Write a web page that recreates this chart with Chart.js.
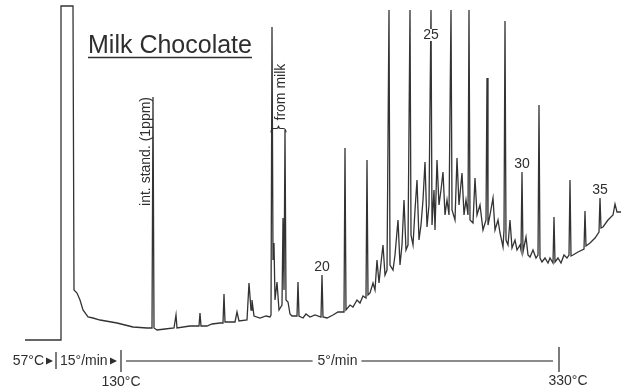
<!DOCTYPE html>
<html><head><meta charset="utf-8">
<script src="https://cdn.jsdelivr.net/npm/chart.js@4"></script>
<style>html,body{margin:0;padding:0;background:#fff}#wrap{width:621px;height:389px;position:relative}</style>
</head><body><div id="wrap"><canvas id="c"></canvas></div>
<script>
// Retention time (min, arbitrary origin) and detector signal (arbitrary units)
const retentionTime = [
  2.5, 6.0, 6.1, 7.3, 7.4, 7.7, 8.0, 8.3, 8.8, 9.3,
  10.0, 11.7, 13.3, 14.7, 15.2, 15.3, 15.4, 15.7, 16.5, 17.4,
  17.6, 17.7, 19.0, 19.9, 20.0, 20.1, 20.7, 21.2, 22.0, 22.3,
  22.4, 22.5, 23.5, 23.7, 23.9, 24.7, 24.9, 25.1, 25.2, 25.4,
  26.0, 26.6, 27.0, 27.1, 27.2, 27.3, 27.4, 27.5, 27.7, 27.9,
  28.2, 28.3, 28.4, 28.5, 28.6, 28.8, 29.0, 29.2, 29.7, 29.8,
  29.9, 30.3, 30.6, 31.0, 31.5, 32.1, 32.2, 32.3, 32.7, 33.3,
  33.8, 34.4, 34.5, 34.6, 35.0, 35.3, 35.7, 36.0, 36.3, 36.6,
  36.7, 36.8, 37.0, 37.3, 37.5, 37.7, 37.9, 38.1, 38.3, 38.5,
  38.7, 38.9, 39.0, 39.3, 39.5, 39.8, 40.0, 40.2, 40.4, 40.6,
  40.8, 41.0, 41.1, 41.3, 41.5, 41.7, 41.9, 42.1, 42.3, 42.5,
  42.7, 42.9, 43.1, 43.2, 43.4, 43.5, 43.7, 43.9, 44.1, 44.3,
  44.5, 44.7, 44.9, 45.1, 45.2, 45.5, 45.7, 45.9, 46.2, 46.4,
  46.6, 46.8, 46.9, 47.0, 47.3, 47.5, 47.7, 48.0, 48.3, 48.6,
  48.7, 48.8, 49.0, 49.3, 49.5, 49.8, 50.0, 50.3, 50.4, 50.5,
  50.6, 50.8, 51.0, 51.2, 51.5, 51.7, 52.0, 52.1, 52.2, 52.3,
  52.6, 52.8, 53.0, 53.3, 53.6, 53.8, 53.9, 54.0, 54.2, 54.5,
  54.8, 55.0, 55.3, 55.4, 55.5, 55.8, 56.1, 56.4, 56.7, 56.9,
  57.0, 57.1, 57.3, 57.8, 58.4, 58.5, 58.6, 59.0, 59.5, 59.9,
  60.0, 60.1, 60.3, 60.8, 61.3, 61.5, 61.7, 62.1
];
const signal = [
  40, 40, 374, 374, 90, 87, 80, 70, 63, 62,
  60, 57, 53, 52, 52, 283, 52, 50, 51, 52,
  65, 52, 54, 54, 67, 54, 54, 56, 57, 57,
  86, 58, 58, 68, 59, 60, 97, 70, 80, 64,
  62, 64, 63, 65, 353, 120, 137, 80, 98, 70,
  75, 162, 90, 250, 80, 78, 66, 64, 64, 98,
  64, 62, 66, 63, 65, 63, 105, 63, 62, 65,
  68, 68, 232, 70, 75, 73, 80, 77, 84, 82,
  220, 85, 87, 97, 90, 120, 97, 117, 135, 105,
  110, 370, 115, 110, 125, 160, 115, 135, 180, 130,
  135, 370, 145, 135, 170, 200, 140, 155, 180, 218,
  153, 175, 370, 155, 190, 150, 220, 175, 190, 208,
  165, 180, 165, 370, 170, 160, 222, 175, 207, 165,
  180, 165, 370, 160, 157, 202, 165, 175, 150, 160,
  302, 155, 165, 182, 150, 160, 147, 133, 150, 359,
  140, 135, 160, 132, 140, 130, 135, 130, 208, 128,
  143, 125, 123, 130, 122, 125, 275, 122, 118, 122,
  117, 122, 117, 163, 118, 122, 117, 125, 122, 125,
  200, 124, 125, 128, 131, 169, 134, 137, 142, 148,
  182, 152, 153, 160, 165, 176, 168, 168
];
const chartTitle = 'Milk Chocolate';
const peakLabels = ['20', '25', '30', '35'];
const peakLabelTimes = [32.2, 43.1, 52.2, 60.0];
const internalStandardLabel = 'int. stand. (1ppm)';
const internalStandardTime = 15.3;
const milkLabel = 'from milk';
const milkPeakTimes = [27.2, 28.5];
const programTemps = ['57°C', '130°C', '330°C'];
const programTimes = [5.6, 12.1, 55.9];
const programRates = ['15°/min', '5°/min'];

const FONT = '"Liberation Sans", Arial, Helvetica, sans-serif';
const INK = '#2e2e2e';

function peakTop(t) {
  let m = -Infinity;
  for (let i = 0; i < retentionTime.length; i++) {
    if (Math.abs(retentionTime[i] - t) < 0.15) m = Math.max(m, signal[i]);
  }
  return m;
}

const annotations = {
  id: 'annotations',
  afterDatasetsDraw(chart) {
    const ctx = chart.ctx, xs = chart.scales.x, ys = chart.scales.y;
    ctx.save();
    ctx.fillStyle = INK; ctx.strokeStyle = INK;

    // title
    ctx.font = '25px ' + FONT;
    ctx.textAlign = 'left'; ctx.textBaseline = 'alphabetic';
    ctx.fillText(chartTitle, 88, 53);
    const tw = ctx.measureText(chartTitle).width;
    ctx.lineWidth = 1.6;
    ctx.beginPath(); ctx.moveTo(88, 57.5); ctx.lineTo(88 + tw, 57.5); ctx.stroke();

    // peak number labels
    ctx.font = '14px ' + FONT;
    ctx.textAlign = 'center'; ctx.textBaseline = 'middle';
    peakLabels.forEach((lab, i) => {
      const px = xs.getPixelForValue(peakLabelTimes[i]);
      let py = ys.getPixelForValue(peakTop(peakLabelTimes[i])) - 8;
      if (py < 35) py = 35;
      const w = ctx.measureText(lab).width;
      ctx.fillStyle = '#fff';
      ctx.fillRect(px - w / 2 - 1, py - 6, w + 2, 12);
      ctx.fillStyle = INK;
      ctx.fillText(lab, px, py + 0.5);
    });

    // internal standard label (rotated)
    const isx = xs.getPixelForValue(internalStandardTime);
    const isy = ys.getPixelForValue(peakTop(internalStandardTime));
    ctx.save();
    ctx.translate(isx - 3, isy);
    ctx.rotate(-Math.PI / 2);
    ctx.textAlign = 'right'; ctx.textBaseline = 'alphabetic';
    ctx.font = '14px ' + FONT;
    ctx.fillText(internalStandardLabel, 0, 0);
    ctx.restore();

    // milk peaks brace + label
    const m1 = xs.getPixelForValue(milkPeakTimes[0]) - 1;
    const m2 = xs.getPixelForValue(milkPeakTimes[1]) + 1;
    const by = 128.5, cx = (m1 + m2) / 2;
    ctx.lineWidth = 1.1;
    ctx.beginPath();
    ctx.moveTo(m1, by + 4);
    ctx.quadraticCurveTo(m1, by, m1 + 3, by);
    ctx.lineTo(cx - 2, by);
    ctx.quadraticCurveTo(cx, by, cx, by - 3);
    ctx.quadraticCurveTo(cx, by, cx + 2, by);
    ctx.lineTo(m2 - 3, by);
    ctx.quadraticCurveTo(m2, by, m2, by + 4);
    ctx.stroke();
    ctx.save();
    ctx.translate(m2 - 1, by - 8);
    ctx.rotate(-Math.PI / 2);
    ctx.textAlign = 'left'; ctx.textBaseline = 'alphabetic';
    ctx.font = '14px ' + FONT;
    ctx.fillText(milkLabel, 0, 0);
    ctx.restore();

    // temperature program
    const rowY = 361;
    const t0 = xs.getPixelForValue(programTimes[0]);
    const t1 = xs.getPixelForValue(programTimes[1]);
    const t2 = xs.getPixelForValue(programTimes[2]);
    ctx.font = '14px ' + FONT;
    ctx.textBaseline = 'middle';
    ctx.textAlign = 'right';
    ctx.fillText(programTemps[0], t0 - 12, rowY);
    const tri = (xe) => {
      ctx.beginPath();
      ctx.moveTo(xe - 7, rowY - 3.5);
      ctx.lineTo(xe, rowY);
      ctx.lineTo(xe - 7, rowY + 3.5);
      ctx.closePath(); ctx.fill();
    };
    tri(t0 - 3);
    ctx.strokeStyle = '#444'; ctx.lineWidth = 1.4;
    ctx.beginPath(); ctx.moveTo(t0, 352); ctx.lineTo(t0, 369); ctx.stroke();
    ctx.textAlign = 'left';
    ctx.fillText(programRates[0], t0 + 4, rowY);
    tri(t1 - 4);
    ctx.beginPath(); ctx.moveTo(t1, 350); ctx.lineTo(t1, 372); ctx.stroke();
    ctx.beginPath(); ctx.moveTo(t2, 347); ctx.lineTo(t2, 372); ctx.stroke();
    // 5°/min line with centred label
    const rw = ctx.measureText(programRates[1]).width;
    const lx0 = t1 + 5, lx1 = t2 - 6;
    const mid = (lx0 + lx1) / 2 - 2;
    ctx.strokeStyle = '#666'; ctx.lineWidth = 1.3;
    ctx.beginPath(); ctx.moveTo(lx0, rowY); ctx.lineTo(mid - rw / 2 - 5, rowY); ctx.stroke();
    ctx.beginPath(); ctx.moveTo(mid + rw / 2 + 4, rowY); ctx.lineTo(lx1, rowY); ctx.stroke();
    ctx.textAlign = 'center';
    ctx.fillText(programRates[1], mid, rowY);
    ctx.fillText(programTemps[1], t1, 382);
    ctx.fillText(programTemps[2], t2 + 9, 381);
    ctx.restore();
  }
};

new Chart(document.getElementById('c'), {
  type: 'line',
  data: {
    datasets: [{
      data: retentionTime.map((t, i) => ({ x: t, y: signal[i] })),
      borderColor: '#333',
      borderWidth: 1.3,
      pointRadius: 0,
      tension: 0,
      fill: false
    }]
  },
  options: {
    responsive: true,
    maintainAspectRatio: false,
    animation: false,
    devicePixelRatio: 1,
    layout: { padding: 0 },
    plugins: { legend: { display: false }, tooltip: { enabled: false } },
    scales: {
      x: { type: 'linear', min: 0, max: 62.1, display: false },
      y: { type: 'linear', min: -9, max: 380, display: false }
    }
  },
  plugins: [annotations]
});
</script>
</body></html>
